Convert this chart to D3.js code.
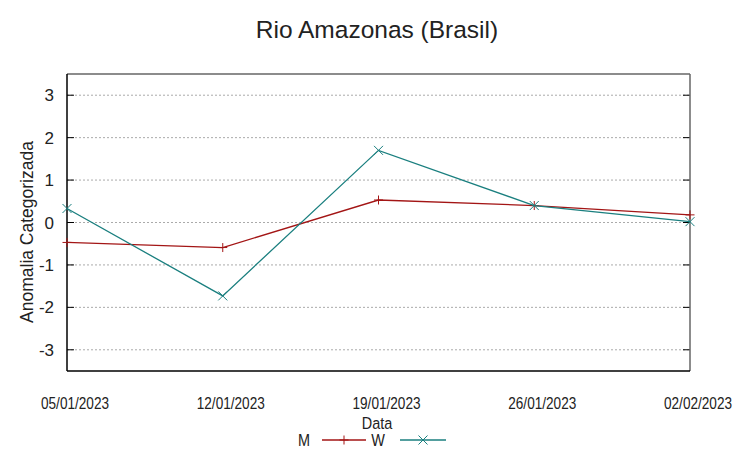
<!DOCTYPE html>
<html>
<head>
<meta charset="utf-8">
<script src="https://cdn.jsdelivr.net/npm/d3@7"></script>
<style>
body{margin:0;background:#fff;}
svg{display:block;}
</style>
</head>
<body>
<svg id="chart" width="753" height="459"></svg>
<script>
var dates = ["05/01/2023","12/01/2023","19/01/2023","26/01/2023","02/02/2023"];
var serieM = [-0.47, -0.59, 0.53, 0.40, 0.18];
var serieW = [0.33, -1.73, 1.70, 0.40, 0.02];
var yTicks = [-3,-2,-1,0,1,2,3];

var svg = d3.select("#chart");
var pLeft = 67, pRight = 690, pTop = 74, pBottom = 371;
var fam = "Liberation Sans, Arial, sans-serif";

var x = d3.scalePoint().domain(dates).range([pLeft, pRight]);
var y = d3.scaleLinear().domain([-3.5, 3.5]).range([pBottom, pTop]);

// grid
svg.selectAll(".grid").data(yTicks).enter().append("line")
    .attr("x1", pLeft).attr("x2", pRight)
    .attr("y1", function(d){ return y(d); })
    .attr("y2", function(d){ return y(d); })
    .style("stroke","#aaaaaa")
    .style("stroke-width",1)
    .style("stroke-dasharray","2,2");

// small inward ticks on left and right
svg.selectAll(".tl").data(yTicks).enter().append("line")
    .attr("x1", pLeft).attr("x2", pLeft+7)
    .attr("y1", function(d){ return y(d); }).attr("y2", function(d){ return y(d); })
    .style("stroke","#000").style("stroke-width",1);
svg.selectAll(".tr").data(yTicks).enter().append("line")
    .attr("x1", pRight-7).attr("x2", pRight)
    .attr("y1", function(d){ return y(d); }).attr("y2", function(d){ return y(d); })
    .style("stroke","#000").style("stroke-width",1);

// frame
svg.append("line").attr("x1",pLeft).attr("x2",pRight).attr("y1",pTop).attr("y2",pTop)
    .style("stroke","#666").style("stroke-width",1.5);
svg.append("line").attr("x1",pRight).attr("x2",pRight).attr("y1",pTop).attr("y2",pBottom)
    .style("stroke","#666").style("stroke-width",1.5);
svg.append("line").attr("x1",pLeft).attr("x2",pLeft).attr("y1",pTop).attr("y2",pBottom)
    .style("stroke","#000").style("stroke-width",1.5);
svg.append("line").attr("x1",pLeft).attr("x2",pRight).attr("y1",pBottom).attr("y2",pBottom)
    .style("stroke","#000").style("stroke-width",1.5);

// y tick labels
svg.selectAll(".ylab").data(yTicks).enter().append("text")
    .attr("x", pLeft-13).attr("y", function(d){ return y(d)+6; })
    .style("font-family",fam)
    .style("font-size","17px")
    .style("text-anchor","end")
    .style("fill","#222")
    .text(function(d){ return d; });

// x tick labels (condensed)
svg.selectAll(".xlab").data(dates).enter().append("text")
    .attr("transform", function(d){ return "translate("+String(x(d)+8)+",409) scale(0.8,1)"; })
    .style("font-family",fam)
    .style("font-size","17px")
    .style("text-anchor","middle")
    .style("fill","#222")
    .text(function(d){ return d; });

// titles
svg.append("text").attr("x",377).attr("y",38)
    .style("font-family",fam)
    .style("font-size","24.5px").style("text-anchor","middle").style("fill","#222")
    .text("Rio Amazonas (Brasil)");
svg.append("text")
    .attr("transform","translate(377,429) scale(0.85,1)")
    .style("font-family",fam)
    .style("font-size","17px").style("text-anchor","middle").style("fill","#222")
    .text("Data");
svg.append("text")
    .attr("transform","translate(33,232) rotate(-90)")
    .style("font-family",fam)
    .style("font-size","17.5px").style("text-anchor","middle").style("fill","#222")
    .text("Anomalia Categorizada");

var series = [
    {name:"M", values:serieM, color:"#a31515", mark:"plus"},
    {name:"W", values:serieW, color:"#1a7f7f", mark:"cross"}
];

var line = d3.line()
    .x(function(d,i){ return x(dates[i]); })
    .y(function(d){ return y(d); });

function drawMark(g, cx, cy, kind, color){
    var s = 4.5;
    if(kind == "plus"){
        g.append("line").attr("x1",cx-s).attr("x2",cx+s).attr("y1",cy).attr("y2",cy)
            .style("stroke",color).style("stroke-width",1);
        g.append("line").attr("x1",cx).attr("x2",cx).attr("y1",cy-s).attr("y2",cy+s)
            .style("stroke",color).style("stroke-width",1);
    } else {
        g.append("line").attr("x1",cx-s).attr("x2",cx+s).attr("y1",cy-s).attr("y2",cy+s)
            .style("stroke",color).style("stroke-width",1);
        g.append("line").attr("x1",cx-s).attr("x2",cx+s).attr("y1",cy+s).attr("y2",cy-s)
            .style("stroke",color).style("stroke-width",1);
    }
}

series.forEach(function(s){
    svg.append("path")
        .attr("d", line(s.values))
        .style("fill","none")
        .style("stroke", s.color)
        .style("stroke-width",1.3);
    var g = svg.append("g");
    s.values.forEach(function(v,i){
        drawMark(g, x(dates[i]), y(v), s.mark, s.color);
    });
});

// legend
var legText = [310, 385];
var legLine = [[322,366],[400,446]];
series.forEach(function(s,i){
    svg.append("text")
        .attr("transform","translate("+legText[i]+",446) scale(0.85,1)")
        .style("font-family",fam)
        .style("font-size","17px").style("text-anchor","end").style("fill","#222")
        .text(s.name);
    svg.append("line").attr("x1",legLine[i][0]).attr("x2",legLine[i][1])
        .attr("y1",440).attr("y2",440)
        .style("stroke",s.color).style("stroke-width",1.3);
    drawMark(svg, (legLine[i][0]+legLine[i][1])/2, 440, s.mark, s.color);
});
</script>
</body>
</html>
